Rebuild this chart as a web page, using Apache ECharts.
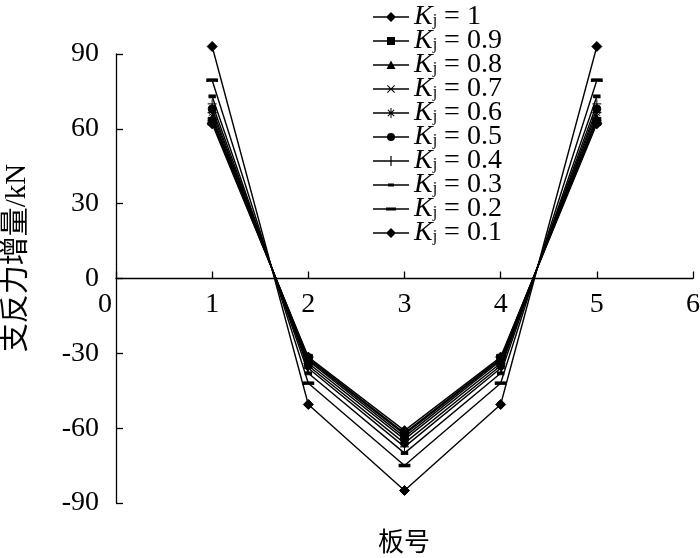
<!DOCTYPE html>
<html>
<head>
<meta charset="utf-8">
<script src="https://cdn.jsdelivr.net/npm/echarts@6/dist/echarts.min.js"></script>
<style>
  html, body { margin: 0; padding: 0; background: #fff; }
  #chart { width: 700px; height: 558px; }
</style>
</head>
<body>
<div id="chart"></div>
<script>
// board numbers on the x axis
var boards = [1, 2, 3, 4, 5];
// Kj values, in legend order
var kLabels = ['1', '0.9', '0.8', '0.7', '0.6', '0.5', '0.4', '0.3', '0.2', '0.1'];
// support reaction increment (kN) for each Kj
var k10 = [62, -31.5, -61, -31.5, 62];
var k09 = [63, -32, -62, -32, 63];
var k08 = [64, -32.5, -62.5, -32.5, 64];
var k07 = [65, -33, -63.5, -33, 65];
var k06 = [66.5, -34, -64.5, -34, 66.5];
var k05 = [68, -35, -66, -35, 68];
var k04 = [70, -36, -67.5, -36, 70];
var k03 = [73, -38, -70, -38, 73];
var k02 = [79.5, -42, -75, -42, 79.5];
var k01 = [93, -50.5, -85, -50.5, 93];

var values = [k10, k09, k08, k07, k06, k05, k04, k03, k02, k01];

// markers on the plot
var symbols = [
  ['diamond', 10],
  ['rect', 8],
  ['triangle', 9],
  ['path://M0,0L10,10M10,0L0,10', 8],
  ['path://M5,0L5,10M0,5L10,5M1.5,1.5L8.5,8.5M8.5,1.5L1.5,8.5', 9],
  ['circle', 8],
  ['path://M5,0L5,10M0,5L10,5', 9],
  ['rect', [6, 3]],
  ['rect', [10, 3]],
  ['diamond', 10]
];

// legend icons: line + marker in a 36x12 box
var box = 'M0,0L0.01,0L0,0.01Z M36,12L35.99,12L36,11.99Z ';
var ln = 'M0,5.3L36,5.3L36,6.7L0,6.7Z ';
var marks = [
  'M18,1L23,6L18,11L13,6Z',
  'M14,2L22,2L22,10L14,10Z',
  'M18,1.5L22.5,10L13.5,10Z',
  'M14,2.7L14.7,2L22,9.3L21.3,10Z M21.3,2L22,2.7L14.7,10L14,9.3Z',
  'M17.5,1L18.5,1L18.5,11L17.5,11Z M14.5,3.2L15.2,2.5L21.5,8.8L20.8,9.5Z M20.8,2.5L21.5,3.2L15.2,9.5L14.5,8.8Z',
  'M22,6A4,4 0 1 1 14,6A4,4 0 1 1 22,6Z',
  'M17.4,1L18.6,1L18.6,11L17.4,11Z',
  'M15,4.5L21,4.5L21,7.5L15,7.5Z',
  'M13,4.5L23,4.5L23,7.5L13,7.5Z',
  'M18,1L23,6L18,11L13,6Z'
];

var serif = 'Liberation Serif, Noto Sans CJK SC, serif';

var series = kLabels.map(function (k, i) {
  return {
    name: k,
    type: 'line',
    clip: false,
    data: boards.map(function (b, j) { return [b, values[i][j]]; }),
    symbol: symbols[i][0],
    symbolSize: symbols[i][1],
    showSymbol: true,
    lineStyle: { color: '#000', width: 1.4 },
    itemStyle: { color: '#000', borderColor: '#000', borderWidth: 1 },
    z: 10 - i
  };
});

var chart = echarts.init(document.getElementById('chart'));
chart.setOption({
  animation: false,
  backgroundColor: '#fff',
  grid: { left: 116, right: 7, top: 54, bottom: 55, outerBoundsMode: 'none' },
  legend: {
    orient: 'vertical',
    left: 368,
    top: -2,
    itemWidth: 36,
    itemHeight: 12,
    itemGap: -4,
    data: kLabels.map(function (k, i) {
      return { name: k, icon: 'path://' + box + ln + marks[i], itemStyle: { color: '#000', borderWidth: 0 } };
    }),
    formatter: function (name) {
      return '{k|K}{s|j}{t| = ' + name + '}';
    },
    textStyle: {
      color: '#000',
      fontFamily: serif,
      fontSize: 28,
      lineHeight: 24,
      rich: {
        k: { fontStyle: 'italic', fontSize: 28, fontFamily: serif, lineHeight: 24 },
        s: { fontSize: 16, fontFamily: serif, lineHeight: 12, verticalAlign: 'bottom', padding: [10, 0, 0, 0] },
        t: { fontSize: 28, fontFamily: serif, lineHeight: 24 }
      }
    }
  },
  xAxis: {
    type: 'value',
    min: 0,
    max: 6,
    interval: 1,
    offset: -224.5,
    axisLine: { onZero: false, lineStyle: { color: '#000', width: 1.3 } },
    axisTick: { inside: true, length: 7, lineStyle: { color: '#000', width: 1.3 } },
    axisLabel: {
      color: '#000', fontFamily: serif, fontSize: 28, margin: 12,
      formatter: function (v) { return v === 0 ? '{z|0}' : String(v); },
      rich: { z: { fontFamily: serif, fontSize: 28, padding: [0, 22, 0, 0] } }
    },
    splitLine: { show: false }
  },
  yAxis: {
    type: 'value',
    min: -90,
    max: 90,
    interval: 30,
    axisLine: { show: true, onZero: false, lineStyle: { color: '#000', width: 1.3 } },
    axisTick: { show: true, inside: true, length: 7, lineStyle: { color: '#000', width: 1.3 } },
    axisLabel: { color: '#000', fontFamily: serif, fontSize: 28, margin: 17 },
    splitLine: { show: false }
  },
  graphic: [{
    type: 'text',
    x: 17,
    y: 258,
    rotation: Math.PI / 2,
    style: {
      text: '支反力增量/kN',
      fill: '#000',
      font: '29px ' + serif,
      align: 'center',
      verticalAlign: 'middle'
    }
  }, {
    type: 'text',
    x: 404,
    y: 544,
    style: {
      text: '板号',
      fill: '#000',
      font: '26px ' + serif,
      align: 'center',
      verticalAlign: 'middle'
    }
  }],
  series: series
});
</script>
</body>
</html>
